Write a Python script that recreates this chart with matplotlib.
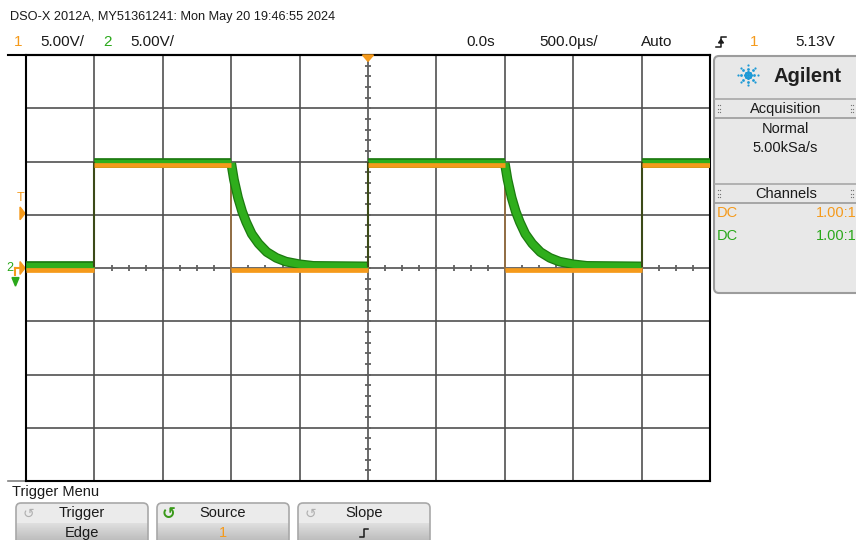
# scope_capture.py
# DSO-X 2012A screen capture: square wave (ch1) and RC discharge (ch2)

import numpy as np
import matplotlib.pyplot as plt
import matplotlib.transforms as mtransforms
from matplotlib.patches import FancyBboxPatch, Polygon

plt.rcParams['font.family'] = ['Liberation Sans', 'DejaVu Sans']

# Data (ms / V)
t_edges = [-2.5, -2.0, -1.0, 0.0, 1.0, 2.0, 2.5]
ch1_state = [0, 1, 0, 1, 0, 1]          # low / high in each interval
ch1_high, ch1_low = 9.7, -0.2
ch2_high, ch2_low = 9.85, 0.15
# ch2 decay after each falling edge (time since edge, volts)
decay_t = [0.0, 0.02, 0.05, 0.08, 0.11, 0.15, 0.2, 0.26, 0.33, 0.4, 0.5, 0.6]
decay_v = [9.85, 8.3, 6.6, 5.3, 4.3, 3.2, 2.3, 1.5, 0.95, 0.6, 0.35, 0.2]

volts_div = 5.0
time_div = 0.5
trig_level = 5.13

ORANGE = '#f59a1b'
GREEN = '#2fae1c'
DKGREEN = '#1c7a10'
TXT = '#1a1a1a'

fig = plt.figure(figsize=(8.56, 5.40), dpi=100)

# full-figure axes in pixel units for the instrument UI
ui = fig.add_axes([0, 0, 1, 1])
ui.set_xlim(0, 856)
ui.set_ylim(540, 0)
ui.axis('off')

# scope graticule
ax = fig.add_axes([26 / 856, 1 - 481 / 540, 684 / 856, 426 / 540])
ax.patch.set_visible(False)
ax.set_xlim(-5 * time_div, 5 * time_div)
ax.set_ylim(-4 * volts_div, 4 * volts_div)
ax.set_xticks(np.arange(-5, 6) * time_div)
ax.set_yticks(np.arange(-4, 5) * volts_div)
ax.tick_params(length=0, labelbottom=False, labelleft=False)
ax.grid(True, color='#505050', lw=1.2)
ax.set_axisbelow(True)
for sp in ax.spines.values():
    sp.set_color('black')
    sp.set_linewidth(1.5)

# minor ticks on centre lines
ax.hlines(np.arange(-20, 20.1, 1.0), -0.022, 0.022, color='#606060', lw=1.3, zorder=1)
ax.vlines(np.arange(-2.5, 2.51, time_div / 4), -0.3, 0.3, color='#606060', lw=1.3, zorder=1)

# channel 2 (green) - flat parts and decays
for i in range(len(ch1_state)):
    t0, t1 = t_edges[i], t_edges[i + 1]
    if ch1_state[i] == 1:
        tt, vv = [t0, t1], [ch2_high, ch2_high]
    elif i == 0:
        tt, vv = [t0, t1], [ch2_low, ch2_low]
    else:
        tt = np.concatenate([t0 + np.array(decay_t), [t1]])
        vv = np.concatenate([decay_v, [ch2_low]])
    ax.plot(tt, vv, color=DKGREEN, lw=7, solid_capstyle='butt', zorder=3)
    ax.plot(tt, vv, color=GREEN, lw=5.2, solid_capstyle='butt', zorder=4)
    if i > 0 and ch1_state[i] == 1:
        ax.plot([t0, t0], [ch2_low, ch2_high], color='#3c4a18', lw=1.5, zorder=4)

# channel 1 (orange)
for i in range(len(ch1_state)):
    t0, t1 = t_edges[i], t_edges[i + 1]
    lvl = ch1_high if ch1_state[i] else ch1_low
    ax.plot([t0, t1], [lvl, lvl], color=ORANGE, lw=3.4, solid_capstyle='butt', zorder=5)
    if i > 0:
        ax.plot([t0, t0], [ch1_low, ch1_high], color='#9a7040', lw=1.2, zorder=2)

# trigger position marker
ax.add_patch(Polygon([[-0.04, 20], [0.04, 20], [0, 19.4]], closed=True,
                     color=ORANGE, clip_on=False, zorder=6))

# header
ui.plot([8, 710], [55, 55], color='black', lw=1.5)
ui.plot([8, 710], [481, 481], color='#808080', lw=1.2)
ui.text(10, 17, 'DSO-X 2012A, MY51361241: Mon May 20 19:46:55 2024',
        fontsize=9.2, color=TXT, va='center')
ui.text(14, 42, '1', fontsize=11, color=ORANGE, va='center')
ui.text(40, 42, '5.00V/', fontsize=11, color=TXT, va='center')
ui.text(103, 42, '2', fontsize=11, color='#2aa81a', va='center')
ui.text(130, 42, '5.00V/', fontsize=11, color=TXT, va='center')
ui.text(481, 42, '0.0s', fontsize=11, color=TXT, va='center', ha='center')
ui.text(569, 42, '500.0µs/', fontsize=11, color=TXT, va='center', ha='center')
ui.text(657, 42, 'Auto', fontsize=11, color=TXT, va='center', ha='center')
ui.text(750, 42, '1', fontsize=11, color=ORANGE, va='center')
ui.text(835, 42, '5.13V', fontsize=11, color=TXT, va='center', ha='right')


def slope_icon(x, y, s=5, color=TXT):
    ui.plot([x - s, x, x, x + s], [y + s, y + s, y - s, y - s], color=color, lw=1.1)
    ui.add_patch(Polygon([[x - 2.5, y + 1], [x + 2.5, y + 1], [x, y - 2.5]],
                         closed=True, color=color))


slope_icon(721, 42)

# left-side markers (trigger level, channel ground)
blend = mtransforms.blended_transform_factory(ui.transData, ax.transData)
ui.text(21, trig_level + 1.4, 'T', fontsize=9, color=ORANGE, ha='center',
        va='center', transform=blend)
ui.add_patch(Polygon([[20, trig_level + 0.6], [20, trig_level - 0.6], [25, trig_level]],
                     closed=True, color=ORANGE, transform=blend))
ui.text(10, 0.0, '2', fontsize=9, color='#2aa81a', ha='center', va='center', transform=blend)
ui.plot([15, 21], [0, 0], color=ORANGE, lw=1.5, transform=blend)
ui.plot([15, 15], [0, -0.7], color=ORANGE, lw=1.5, transform=blend)
ui.add_patch(Polygon([[20, 0.6], [20, -0.6], [25, 0]], closed=True, color=ORANGE, transform=blend))
ui.add_patch(Polygon([[12, -0.9], [19, -0.9], [15.5, -1.7]], closed=True,
                     color='#2aa81a', transform=blend))

# right side panel
ui.add_patch(FancyBboxPatch((714, 56), 150, 237, boxstyle='round,pad=0,rounding_size=5',
                            fc='#e8e8e8', ec='#9c9c9c', lw=1.5))
ang = np.deg2rad(np.arange(0, 360, 45))
for r, s in [(3.2, 5), (6.5, 4), (9.8, 2.5)]:
    ui.scatter(748 + r * np.cos(ang), 75 + r * np.sin(ang), s=s, color='#1e9ad6', lw=0)
ui.scatter([748], [75], s=6, color='#1e9ad6', lw=0)
ui.text(808, 76, 'Agilent', fontsize=14.5, fontweight='bold', family='Liberation Sans',
        color='#202020', ha='center', va='center')

for y0, y1, label in [(99, 118, 'Acquisition'), (184, 203, 'Channels')]:
    ui.plot([715, 856], [y0, y0], color='#a8a8a8', lw=1.2)
    ui.plot([715, 856], [y1, y1], color='#9a9a9a', lw=1.2)
    ui.text(786, (y0 + y1) / 2, label, fontsize=10.5, color=TXT, ha='center', va='center')
    for hx in (718, 851):
        ui.scatter([hx, hx + 2.5] * 3, np.repeat([y0 + 6, y0 + 9.5, y0 + 13], 2),
                   s=0.8, color='#707070', lw=0)

ui.text(785, 129, 'Normal', fontsize=10.5, color=TXT, ha='center', va='center')
ui.text(785, 148, '5.00kSa/s', fontsize=10.5, color=TXT, ha='center', va='center')
ui.text(717, 213, 'DC', fontsize=10.5, color=ORANGE, va='center')
ui.text(857, 213, '1.00:1', fontsize=10.5, color=ORANGE, va='center', ha='right')
ui.text(717, 236, 'DC', fontsize=10.5, color='#2aa81a', va='center')
ui.text(857, 236, '1.00:1', fontsize=10.5, color='#2aa81a', va='center', ha='right')

# trigger menu softkeys
ui.text(12, 492, 'Trigger Menu', fontsize=10.5, color=TXT, va='center')
grad = np.concatenate([np.full(20, 0.92), np.linspace(0.87, 0.68, 25)])[:, None]
softkeys = [('Trigger', 'Edge'), ('Source', '1'), ('Slope', '')]
for k, (top, bottom) in enumerate(softkeys):
    bx = 16 + k * 141
    box = FancyBboxPatch((bx, 503), 132, 45, boxstyle='round,pad=0,rounding_size=5',
                         fc='none', ec='#a8a8a8', lw=1.2, zorder=3)
    ui.add_patch(box)
    im = ui.imshow(grad, cmap='gray', vmin=0, vmax=1, aspect='auto',
                   extent=(bx, bx + 132, 548, 503), zorder=2)
    im.set_clip_path(box)
    cx = bx + 66
    ui.text(cx, 513, top, fontsize=10.5, color=TXT, ha='center', va='center', zorder=4)
    icon_col = '#3a9a1a' if k == 1 else '#b0b0b0'
    ui.text(bx + 12, 514, '↺', fontsize=12 if k == 1 else 10, color=icon_col,
            fontweight='bold' if k == 1 else 'normal', family='DejaVu Sans',
            ha='center', va='center', zorder=4)
    if bottom:
        ui.text(cx, 533, bottom, fontsize=10.5, color=ORANGE if bottom == '1' else TXT,
                ha='center', va='center', zorder=4)
    else:
        slope_icon(cx, 533, s=4)

ui.set_xlim(0, 856)
ui.set_ylim(540, 0)

fig.savefig('out.png', dpi=100)
